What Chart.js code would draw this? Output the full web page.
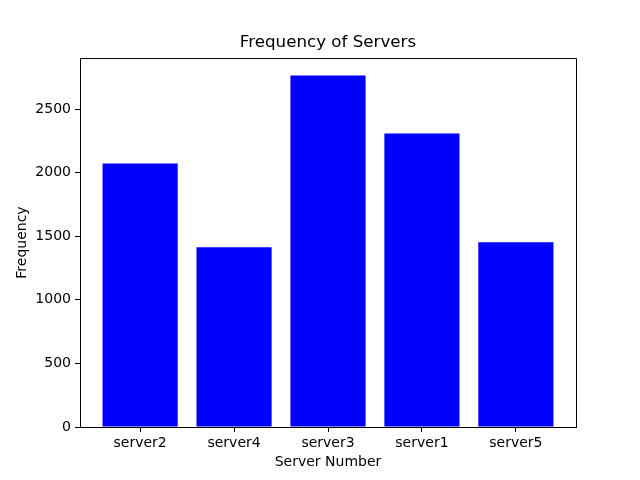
<!DOCTYPE html>
<html>
<head>
<meta charset="utf-8">
<script src="https://cdn.jsdelivr.net/npm/chart.js@4"></script>
<style>
  html, body { margin: 0; padding: 0; background: #fff; }
  #wrap { width: 640px; height: 480px; }
</style>
</head>
<body>
<div id="wrap"><canvas id="myChart" width="640" height="480"></canvas></div>
<script>
// values
var servers = ['server2', 'server4', 'server3', 'server1', 'server5'];
var freq = [2072, 1413, 2763, 2308, 1452];
var yTicks = [0, 500, 1000, 1500, 2000, 2500];

var FONT = 'DejaVu Sans';

// top and right spines like matplotlib's box
var boxPlugin = {
  id: 'box',
  afterDraw: function (chart) {
    var a = chart.chartArea, ctx = chart.ctx;
    ctx.save();
    ctx.strokeStyle = '#000';
    ctx.lineWidth = 1;
    ctx.beginPath();
    ctx.moveTo(a.left, a.top + 0.5);
    ctx.lineTo(a.right + 0.5, a.top + 0.5);
    ctx.lineTo(a.right + 0.5, a.bottom);
    ctx.stroke();
    ctx.restore();
  }
};

new Chart('myChart', {
  type: 'bar',
  data: {
    datasets: [{
      data: servers.map(function (s, i) { return { x: i, y: freq[i] }; }),
      backgroundColor: '#0000ff',
      borderWidth: 0,
      inflateAmount: 0,
      barPercentage: 1.0,
      categoryPercentage: 0.8
    }]
  },
  options: {
    responsive: false,
    animation: false,
    layout: { padding: { top: 0, right: 64, bottom: 0, left: 0 } },
    plugins: {
      legend: { display: false },
      tooltip: { enabled: false },
      title: {
        display: true,
        fullSize: false,
        text: 'Frequency of Servers',
        color: '#000',
        font: { family: FONT, size: 16.7, weight: 'normal' },
        padding: { top: 33, bottom: 5 }
      }
    },
    scales: {
      x: {
        type: 'linear',
        offset: false,
        min: -0.64,
        max: 4.64,
        afterBuildTicks: function (s) {
          s.ticks = servers.map(function (n, i) { return { value: i }; });
        },
        afterFit: function (s) { s.height = 53; },
        ticks: {
          color: '#000',
          font: { family: FONT, size: 14 },
          padding: 3,
          maxRotation: 0,
          callback: function (v) { return servers[v]; }
        },
        grid: { display: true, offset: false, drawOnChartArea: false, drawTicks: true, tickLength: 5, color: '#000' },
        border: { display: true, color: '#000', width: 1 },
        title: {
          display: true,
          text: 'Server Number',
          color: '#000',
          font: { family: FONT, size: 14 },
          padding: { top: 0, bottom: 9 }
        }
      },
      y: {
        min: 0,
        max: 2901,
        afterBuildTicks: function (s) {
          s.ticks = yTicks.map(function (v) { return { value: v }; });
        },
        afterFit: function (s) { s.width = 80; },
        ticks: {
          color: '#000',
          font: { family: FONT, size: 14 },
          padding: 4,
          callback: function (v) { return String(v); }
        },
        grid: { display: true, drawOnChartArea: false, drawTicks: true, tickLength: 5, color: '#000' },
        border: { display: true, color: '#000', width: 1 },
        title: {
          display: true,
          text: 'Frequency',
          color: '#000',
          font: { family: FONT, size: 14 },
          padding: { top: 14, bottom: 0 }
        }
      }
    }
  },
  plugins: [boxPlugin]
});
</script>
</body>
</html>
